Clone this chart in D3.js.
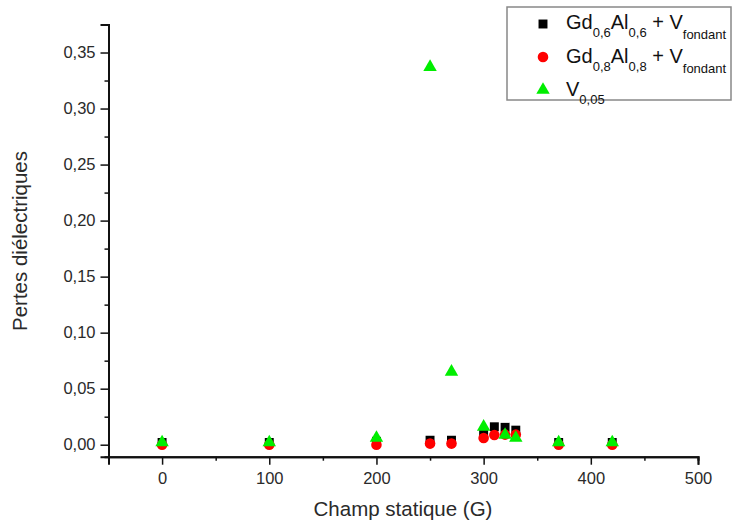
<!DOCTYPE html>
<html><head><meta charset="utf-8">
<script src="https://cdn.jsdelivr.net/npm/d3@7"></script>
<style>body{margin:0;background:#fff}svg{display:block;font-family:"Liberation Sans",Arial,sans-serif}</style>
</head><body>
<svg id="c" width="733" height="523"></svg>
<script>
const xs = [0, 100, 200, 250, 270, 300, 310, 320, 330, 370, 420];
const seriesBlack = [0.002, 0.002, 0.003, 0.004, 0.004, 0.011, 0.016, 0.0155, 0.013, 0.002, 0.002];
const seriesRed   = [0.000, 0.000, 0.000, 0.001, 0.001, 0.006, 0.0087, 0.009, 0.009, 0.000, 0.000];
const seriesGreen = [0.002, 0.002, 0.006, 0.337, 0.065, 0.016, null, 0.0087, 0.006, 0.002, 0.002];
const xTicks = [0, 100, 200, 300, 400, 500];
const yTicks = [0, 0.05, 0.10, 0.15, 0.20, 0.25, 0.30, 0.35];

const svg = d3.select("#c");
const x = d3.scaleLinear().domain([-50, 500]).range([108.5, 698]);
const y = d3.scaleLinear().domain([-0.0107, 0.375]).range([456.7, 24.5]);
const fmt = d => d3.format(".2f")(d).replace(".", ",");

const xAxis = d3.axisBottom(x).tickValues(xTicks).tickSize(8).tickFormat(d3.format("d"));
const xMinor = d3.axisBottom(x).tickValues(d3.range(-50, 501, 100)).tickSize(4).tickFormat("");
const yAxis = d3.axisLeft(y).tickValues(yTicks).tickSize(8).tickFormat(fmt);
const yMinor = d3.axisLeft(y).tickValues(d3.range(0.025, 0.376, 0.05)).tickSize(4).tickFormat("");

function style(g){
  g.attr("font-family", null);
  g.select(".domain").attr("stroke","#111").attr("stroke-width",2);
  g.selectAll(".tick line").attr("stroke","#111").attr("stroke-width",1.5);
  g.selectAll("text").attr("fill","#2a2a2a").style("font-size","16.5px");
}
svg.append("g").attr("transform","translate(0,456.7)").call(xMinor).call(style);
svg.append("g").attr("transform","translate(0,456.7)").call(xAxis).call(style)
  .selectAll("text").attr("dy","1.0em");
svg.append("g").attr("transform","translate(108.5,0)").call(yMinor).call(style);
svg.append("g").attr("transform","translate(108.5,0)").call(yAxis).call(style)
  .selectAll("text").attr("x",-13);

svg.append("text").attr("x",403).attr("y",516).attr("text-anchor","middle")
  .style("font-size","20.5px").attr("fill","#2a2a2a").text("Champ statique (G)");
svg.append("text").attr("transform","translate(27,241) rotate(-90)").attr("text-anchor","middle")
  .style("font-size","20.5px").attr("fill","#2a2a2a").text("Pertes diélectriques");

const sq = d3.symbol().type(d3.symbolSquare).size(80);
const ci = d3.symbol().type(d3.symbolCircle).size(88);
const tr = d3.symbol().type(d3.symbolTriangle).size(78);

function plot(vals, sym, color){
  svg.append("g").selectAll("path")
    .data(xs.map((d,i)=>[d, vals[i]]).filter(d=>d[1]!==null))
    .join("path")
    .attr("d", sym)
    .attr("fill", color)
    .attr("transform", d => `translate(${x(d[0])},${y(d[1])})`);
}
plot(seriesBlack, sq, "#000");
plot(seriesRed, ci, "#ff0000");
plot(seriesGreen, tr, "#00ee00");

const lg = svg.append("g");
lg.append("rect").attr("x",507).attr("y",7).attr("width",224).attr("height",93)
  .attr("fill","#fff").attr("stroke","#888").attr("stroke-width",1.5);
lg.append("path").attr("d", sq).attr("fill","#000").attr("transform","translate(543,24)");
lg.append("path").attr("d", ci).attr("fill","#ff0000").attr("transform","translate(543,57)");
lg.append("path").attr("d", tr).attr("fill","#00ee00").attr("transform","translate(543,90)");

function legText(yb, parts){
  const t = lg.append("text").attr("x",566).attr("y",yb).attr("fill","#111").style("font-size","20px");
  parts.forEach(p => {
    const ts = t.append("tspan").text(p[0]).style("font-size", p[2] ? "13px" : "20px");
    if (p[1]) ts.attr("dy", p[1]);
  });
}
legText(29, [["Gd",0,false],["0,6",8,true],["Al",-8,false],["0,6",8,true],[" + V",-8,false],["fondant",10,true]]);
legText(63, [["Gd",0,false],["0,8",8,true],["Al",-8,false],["0,8",8,true],[" + V",-8,false],["fondant",10,true]]);
legText(96, [["V",0,false],["0,05",8,true]]);
</script>
</body></html>
